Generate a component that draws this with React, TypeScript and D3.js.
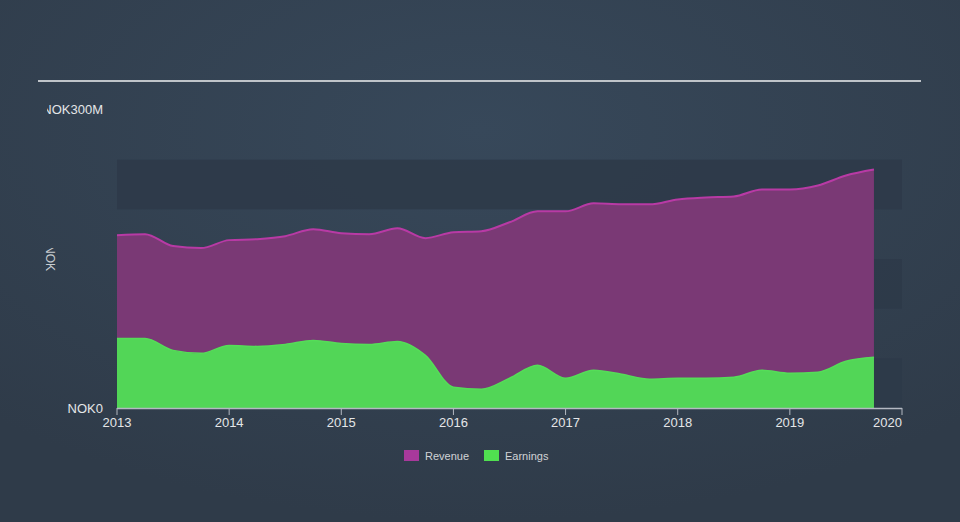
import React from "react";
import * as d3 from "d3";

const quarters: number[] = [
  2013.0, 2013.25, 2013.5, 2013.75, 2014.0, 2014.25, 2014.5, 2014.75,
  2015.0, 2015.25, 2015.5, 2015.75, 2016.0, 2016.25, 2016.5, 2016.75,
  2017.0, 2017.25, 2017.5, 2017.75, 2018.0, 2018.25, 2018.5, 2018.75,
  2019.0, 2019.25, 2019.5, 2019.75,
];
const revenue: number[] = [
  174, 175, 163, 161, 169, 170, 173, 180,
  176, 175, 181, 171, 177, 178, 187, 198,
  198, 206, 205, 205, 210, 212, 213, 220,
  220, 224, 234, 240,
];
const earnings: number[] = [
  70, 70, 58, 55, 63, 62, 64, 68,
  65, 64, 67, 53, 21, 19, 30, 43,
  30, 38, 34, 29, 30, 30, 31, 38,
  35, 36, 47, 51,
];
const yearTicks: number[] = [2013, 2014, 2015, 2016, 2017, 2018, 2019, 2020];
const bandRanges: [number, number][] = [[0, 50], [100, 150], [200, 250]];
const legendItems: { label: string; color: string }[] = [
  { label: "Revenue", color: "#a8399b" },
  { label: "Earnings", color: "#50e050" },
];

const W = 960;
const H = 522;

export default function App() {
  const x = d3.scaleLinear().domain([2013, 2020]).range([117, 902]);
  const y = d3.scaleLinear().domain([0, 300]).range([408, 110]);

  const revData = quarters.map((q, i) => ({ q, v: revenue[i] }));
  const earnData = quarters.map((q, i) => ({ q, v: earnings[i] }));

  const area = d3
    .area<{ q: number; v: number }>()
    .x((d) => x(d.q))
    .y0(y(0))
    .y1((d) => y(d.v))
    .curve(d3.curveMonotoneX);
  const line = d3
    .line<{ q: number; v: number }>()
    .x((d) => x(d.q))
    .y((d) => y(d.v))
    .curve(d3.curveMonotoneX);

  const font = "Arial, 'Liberation Sans', sans-serif";

  return (
    <svg
      width={W}
      height={H}
      style={{ position: "absolute", left: 0, top: 0, display: "block" }}
    >
      <defs>
        <radialGradient id="bg" cx="50%" cy="25%" r="75%">
          <stop offset="0%" stopColor="#37485a" />
          <stop offset="100%" stopColor="#2f3b49" />
        </radialGradient>
        <clipPath id="clipTop">
          <rect x={47} y={90} width={100} height={40} />
        </clipPath>
        <clipPath id="clipSide">
          <rect x={30} y={248} width={40} height={40} />
        </clipPath>
      </defs>
      <rect x={0} y={0} width={W} height={H} fill="url(#bg)" />

      <line x1={38} x2={921} y1={81} y2={81} stroke="#bfc4c9" strokeWidth={2} />

      {bandRanges.map(([a, b], i) => (
        <rect
          key={i}
          x={x(2013)}
          width={x(2020) - x(2013)}
          y={y(b)}
          height={y(a) - y(b)}
          fill="#2d3a49"
          opacity={0.9}
        />
      ))}

      <path d={area(revData) || ""} fill="#7a3975" />
      <path d={line(revData) || ""} fill="none" stroke="#b83aa5" strokeWidth={2} />
      <path d={area(earnData) || ""} fill="#52d657" />
      <path d={line(earnData) || ""} fill="none" stroke="#55dd58" strokeWidth={1.5} />

      <line x1={x(2013)} x2={x(2020)} y1={408.5} y2={408.5} stroke="#b4b9c2" strokeWidth={1.5} />
      {yearTicks.map((t, i) => (
        <g key={t}>
          <line x1={x(t)} x2={x(t)} y1={408} y2={415} stroke="#b4b9c2" strokeWidth={1} />
          <text
            x={x(t)}
            y={427}
            textAnchor={i === yearTicks.length - 1 ? "end" : "middle"}
            fill="#e4e6e8"
            fontSize={13}
            fontFamily={font}
          >
            {t}
          </text>
        </g>
      ))}

      <g clipPath="url(#clipTop)">
        <text x={103} y={114} textAnchor="end" fill="#e4e6e8" fontSize={13} fontFamily={font}>
          NOK300M
        </text>
      </g>
      <text x={103} y={413} textAnchor="end" fill="#e4e6e8" fontSize={13} fontFamily={font}>
        NOK0
      </text>
      <g clipPath="url(#clipSide)">
        <text
          transform="translate(46,258) rotate(90)"
          textAnchor="middle"
          fill="#c8ccd0"
          fontSize={12}
          fontFamily={font}
        >
          NOK
        </text>
      </g>

      {legendItems.map((it, i) => (
        <g key={it.label} transform={`translate(${404 + i * 80},450)`}>
          <rect x={0} y={0} width={15} height={11} fill={it.color} />
          <text x={21} y={10} fill="#d0d3d6" fontSize={11} fontFamily={font}>
            {it.label}
          </text>
        </g>
      ))}
    </svg>
  );
}
